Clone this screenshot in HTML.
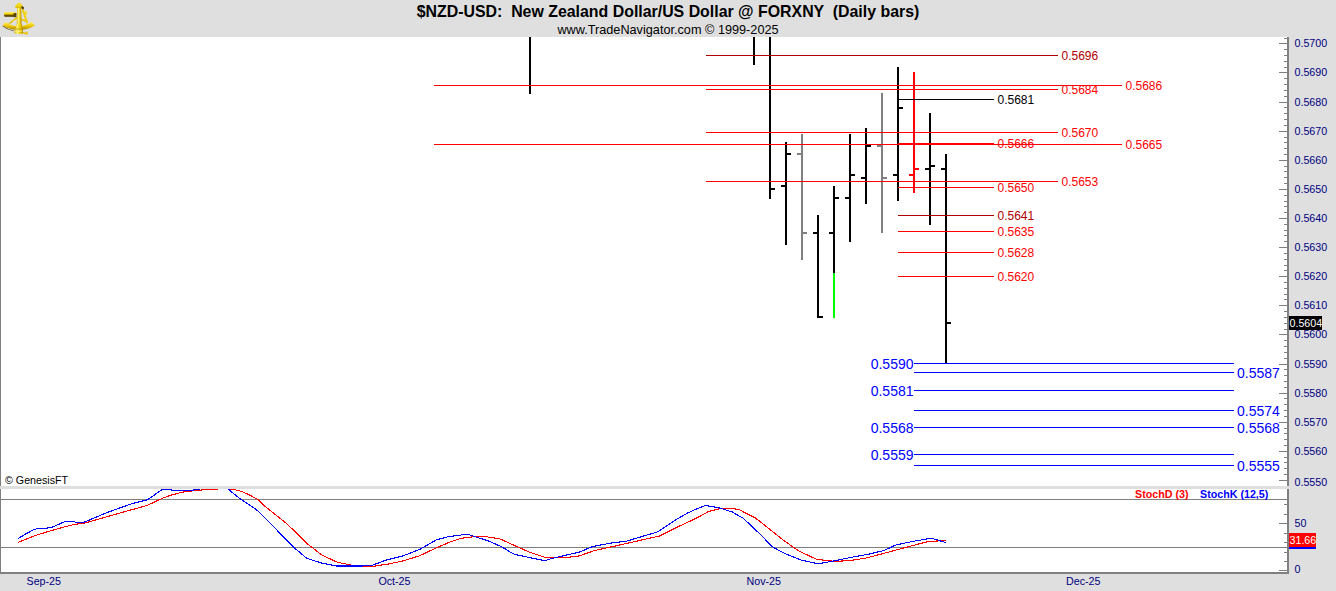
<!DOCTYPE html>
<html><head><meta charset="utf-8"><title>NZD-USD</title>
<style>html,body{margin:0;padding:0;background:#dfdfdf;width:1336px;height:591px;overflow:hidden}
svg text{font-family:'Liberation Sans', sans-serif;white-space:pre}</style></head>
<body><svg width="1336" height="591" viewBox="0 0 1336 591" style="display:block;font-family:'Liberation Sans', sans-serif" shape-rendering="crispEdges">
<rect x="0" y="0" width="1336" height="591" fill="#dfdfdf"/>
<rect x="0" y="37" width="1287" height="449" fill="#ffffff"/>
<rect x="0" y="489" width="1287" height="83" fill="#ffffff"/>
<rect x="0" y="37" width="1" height="449" fill="#808080"/>
<rect x="0" y="489" width="1" height="85" fill="#808080"/>
<rect x="1287" y="37" width="2" height="449" fill="#808080"/>
<rect x="1287" y="489" width="2" height="85" fill="#808080"/>
<rect x="0" y="572" width="1289" height="2" fill="#808080"/>
<rect x="1284" y="38" width="3" height="1" fill="#808080"/>
<rect x="1279" y="43" width="8" height="1" fill="#808080"/>
<rect x="1284" y="49" width="3" height="1" fill="#808080"/>
<rect x="1284" y="55" width="3" height="1" fill="#808080"/>
<rect x="1284" y="61" width="3" height="1" fill="#808080"/>
<rect x="1284" y="67" width="3" height="1" fill="#808080"/>
<rect x="1279" y="72" width="8" height="1" fill="#808080"/>
<rect x="1284" y="78" width="3" height="1" fill="#808080"/>
<rect x="1284" y="84" width="3" height="1" fill="#808080"/>
<rect x="1284" y="90" width="3" height="1" fill="#808080"/>
<rect x="1284" y="96" width="3" height="1" fill="#808080"/>
<rect x="1279" y="102" width="8" height="1" fill="#808080"/>
<rect x="1284" y="107" width="3" height="1" fill="#808080"/>
<rect x="1284" y="113" width="3" height="1" fill="#808080"/>
<rect x="1284" y="119" width="3" height="1" fill="#808080"/>
<rect x="1284" y="125" width="3" height="1" fill="#808080"/>
<rect x="1279" y="131" width="8" height="1" fill="#808080"/>
<rect x="1284" y="137" width="3" height="1" fill="#808080"/>
<rect x="1284" y="142" width="3" height="1" fill="#808080"/>
<rect x="1284" y="148" width="3" height="1" fill="#808080"/>
<rect x="1284" y="154" width="3" height="1" fill="#808080"/>
<rect x="1279" y="160" width="8" height="1" fill="#808080"/>
<rect x="1284" y="166" width="3" height="1" fill="#808080"/>
<rect x="1284" y="171" width="3" height="1" fill="#808080"/>
<rect x="1284" y="177" width="3" height="1" fill="#808080"/>
<rect x="1284" y="183" width="3" height="1" fill="#808080"/>
<rect x="1279" y="189" width="8" height="1" fill="#808080"/>
<rect x="1284" y="195" width="3" height="1" fill="#808080"/>
<rect x="1284" y="201" width="3" height="1" fill="#808080"/>
<rect x="1284" y="206" width="3" height="1" fill="#808080"/>
<rect x="1284" y="212" width="3" height="1" fill="#808080"/>
<rect x="1279" y="218" width="8" height="1" fill="#808080"/>
<rect x="1284" y="224" width="3" height="1" fill="#808080"/>
<rect x="1284" y="230" width="3" height="1" fill="#808080"/>
<rect x="1284" y="235" width="3" height="1" fill="#808080"/>
<rect x="1284" y="241" width="3" height="1" fill="#808080"/>
<rect x="1279" y="247" width="8" height="1" fill="#808080"/>
<rect x="1284" y="253" width="3" height="1" fill="#808080"/>
<rect x="1284" y="259" width="3" height="1" fill="#808080"/>
<rect x="1284" y="265" width="3" height="1" fill="#808080"/>
<rect x="1284" y="270" width="3" height="1" fill="#808080"/>
<rect x="1279" y="276" width="8" height="1" fill="#808080"/>
<rect x="1284" y="282" width="3" height="1" fill="#808080"/>
<rect x="1284" y="288" width="3" height="1" fill="#808080"/>
<rect x="1284" y="294" width="3" height="1" fill="#808080"/>
<rect x="1284" y="299" width="3" height="1" fill="#808080"/>
<rect x="1279" y="305" width="8" height="1" fill="#808080"/>
<rect x="1284" y="311" width="3" height="1" fill="#808080"/>
<rect x="1284" y="317" width="3" height="1" fill="#808080"/>
<rect x="1284" y="323" width="3" height="1" fill="#808080"/>
<rect x="1284" y="329" width="3" height="1" fill="#808080"/>
<rect x="1279" y="334" width="8" height="1" fill="#808080"/>
<rect x="1284" y="340" width="3" height="1" fill="#808080"/>
<rect x="1284" y="346" width="3" height="1" fill="#808080"/>
<rect x="1284" y="352" width="3" height="1" fill="#808080"/>
<rect x="1284" y="358" width="3" height="1" fill="#808080"/>
<rect x="1279" y="364" width="8" height="1" fill="#808080"/>
<rect x="1284" y="369" width="3" height="1" fill="#808080"/>
<rect x="1284" y="375" width="3" height="1" fill="#808080"/>
<rect x="1284" y="381" width="3" height="1" fill="#808080"/>
<rect x="1284" y="387" width="3" height="1" fill="#808080"/>
<rect x="1279" y="393" width="8" height="1" fill="#808080"/>
<rect x="1284" y="398" width="3" height="1" fill="#808080"/>
<rect x="1284" y="404" width="3" height="1" fill="#808080"/>
<rect x="1284" y="410" width="3" height="1" fill="#808080"/>
<rect x="1284" y="416" width="3" height="1" fill="#808080"/>
<rect x="1279" y="422" width="8" height="1" fill="#808080"/>
<rect x="1284" y="428" width="3" height="1" fill="#808080"/>
<rect x="1284" y="433" width="3" height="1" fill="#808080"/>
<rect x="1284" y="439" width="3" height="1" fill="#808080"/>
<rect x="1284" y="445" width="3" height="1" fill="#808080"/>
<rect x="1279" y="451" width="8" height="1" fill="#808080"/>
<rect x="1284" y="457" width="3" height="1" fill="#808080"/>
<rect x="1284" y="462" width="3" height="1" fill="#808080"/>
<rect x="1284" y="468" width="3" height="1" fill="#808080"/>
<rect x="1284" y="474" width="3" height="1" fill="#808080"/>
<rect x="1279" y="480" width="8" height="1" fill="#808080"/>
<text x="1294.5" y="47" font-size="10.7" fill="#000080" font-weight="normal" text-anchor="start">0.5700</text>
<text x="1294.5" y="76" font-size="10.7" fill="#000080" font-weight="normal" text-anchor="start">0.5690</text>
<text x="1294.5" y="106" font-size="10.7" fill="#000080" font-weight="normal" text-anchor="start">0.5680</text>
<text x="1294.5" y="135" font-size="10.7" fill="#000080" font-weight="normal" text-anchor="start">0.5670</text>
<text x="1294.5" y="164" font-size="10.7" fill="#000080" font-weight="normal" text-anchor="start">0.5660</text>
<text x="1294.5" y="193" font-size="10.7" fill="#000080" font-weight="normal" text-anchor="start">0.5650</text>
<text x="1294.5" y="222" font-size="10.7" fill="#000080" font-weight="normal" text-anchor="start">0.5640</text>
<text x="1294.5" y="251" font-size="10.7" fill="#000080" font-weight="normal" text-anchor="start">0.5630</text>
<text x="1294.5" y="280" font-size="10.7" fill="#000080" font-weight="normal" text-anchor="start">0.5620</text>
<text x="1294.5" y="309" font-size="10.7" fill="#000080" font-weight="normal" text-anchor="start">0.5610</text>
<text x="1294.5" y="338" font-size="10.7" fill="#000080" font-weight="normal" text-anchor="start">0.5600</text>
<text x="1294.5" y="368" font-size="10.7" fill="#000080" font-weight="normal" text-anchor="start">0.5590</text>
<text x="1294.5" y="397" font-size="10.7" fill="#000080" font-weight="normal" text-anchor="start">0.5580</text>
<text x="1294.5" y="426" font-size="10.7" fill="#000080" font-weight="normal" text-anchor="start">0.5570</text>
<text x="1294.5" y="455" font-size="10.7" fill="#000080" font-weight="normal" text-anchor="start">0.5560</text>
<text x="1294.5" y="486" font-size="10.7" fill="#000080" font-weight="normal" text-anchor="start">0.5550</text>
<rect x="1279" y="570" width="8" height="1" fill="#808080"/>
<rect x="1284" y="561" width="3" height="1" fill="#808080"/>
<rect x="1284" y="552" width="3" height="1" fill="#808080"/>
<rect x="1284" y="542" width="3" height="1" fill="#808080"/>
<rect x="1284" y="533" width="3" height="1" fill="#808080"/>
<rect x="1279" y="523" width="8" height="1" fill="#808080"/>
<rect x="1284" y="514" width="3" height="1" fill="#808080"/>
<rect x="1284" y="504" width="3" height="1" fill="#808080"/>
<rect x="1" y="499" width="1286" height="1" fill="#808080"/>
<rect x="1" y="547" width="1286" height="1" fill="#808080"/>
<text x="1294.5" y="527" font-size="10.7" fill="#000080" font-weight="normal" text-anchor="start">50</text>
<text x="1294.5" y="573" font-size="10.7" fill="#000080" font-weight="normal" text-anchor="start">0</text>
<rect x="529" y="37" width="2" height="57" fill="#000000"/>
<rect x="753" y="37" width="2" height="28" fill="#000000"/>
<rect x="769" y="37" width="2" height="162" fill="#000000"/>
<rect x="771" y="188" width="4" height="2" fill="#000000"/>
<rect x="785" y="142" width="2" height="103" fill="#000000"/>
<rect x="781" y="185" width="4" height="2" fill="#000000"/>
<rect x="787" y="153" width="4" height="2" fill="#000000"/>
<rect x="801" y="134" width="2" height="126" fill="#808080"/>
<rect x="797" y="153" width="4" height="2" fill="#808080"/>
<rect x="803" y="232" width="4" height="2" fill="#808080"/>
<rect x="817" y="215" width="2" height="103" fill="#000000"/>
<rect x="813" y="232" width="4" height="2" fill="#000000"/>
<rect x="819" y="316" width="4" height="2" fill="#000000"/>
<rect x="833" y="186" width="2" height="87" fill="#000000"/>
<rect x="829" y="232" width="4" height="2" fill="#000000"/>
<rect x="835" y="197" width="4" height="2" fill="#000000"/>
<rect x="833" y="273" width="2" height="45" fill="#00ff00"/>
<rect x="849" y="134" width="2" height="108" fill="#000000"/>
<rect x="845" y="197" width="4" height="2" fill="#000000"/>
<rect x="851" y="174" width="4" height="2" fill="#000000"/>
<rect x="865" y="128" width="2" height="76" fill="#000000"/>
<rect x="861" y="177" width="4" height="2" fill="#000000"/>
<rect x="867" y="145" width="4" height="2" fill="#000000"/>
<rect x="881" y="93" width="2" height="140" fill="#808080"/>
<rect x="877" y="145" width="4" height="2" fill="#808080"/>
<rect x="883" y="177" width="4" height="2" fill="#808080"/>
<rect x="897" y="67" width="2" height="134" fill="#000000"/>
<rect x="893" y="174" width="4" height="2" fill="#000000"/>
<rect x="899" y="107" width="4" height="2" fill="#000000"/>
<rect x="913" y="72" width="2" height="121" fill="#ff0000"/>
<rect x="909" y="174" width="4" height="2" fill="#ff0000"/>
<rect x="915" y="168" width="4" height="2" fill="#ff0000"/>
<rect x="929" y="113" width="2" height="112" fill="#000000"/>
<rect x="925" y="168" width="4" height="2" fill="#000000"/>
<rect x="931" y="165" width="4" height="2" fill="#000000"/>
<rect x="945" y="154" width="2" height="209" fill="#000000"/>
<rect x="941" y="168" width="4" height="2" fill="#000000"/>
<rect x="947" y="322" width="4" height="2" fill="#000000"/>
<rect x="706" y="55" width="352" height="1" fill="#b00000"/>
<text x="1061.5" y="60" font-size="12" fill="#b00000" font-weight="normal" text-anchor="start">0.5696</text>
<rect x="706" y="89" width="352" height="1" fill="#ff0000"/>
<text x="1061.5" y="94" font-size="12" fill="#ff0000" font-weight="normal" text-anchor="start">0.5684</text>
<rect x="706" y="132" width="352" height="1" fill="#ff0000"/>
<text x="1061.5" y="137" font-size="12" fill="#ff0000" font-weight="normal" text-anchor="start">0.5670</text>
<rect x="706" y="181" width="352" height="1" fill="#ff0000"/>
<text x="1061.5" y="186" font-size="12" fill="#ff0000" font-weight="normal" text-anchor="start">0.5653</text>
<rect x="898" y="99" width="96" height="1" fill="#000000"/>
<text x="997.5" y="104" font-size="12" fill="#000000" font-weight="normal" text-anchor="start">0.5681</text>
<rect x="898" y="143" width="96" height="1" fill="#ff0000"/>
<text x="997.5" y="148" font-size="12" fill="#ff0000" font-weight="normal" text-anchor="start">0.5666</text>
<rect x="898" y="187" width="96" height="1" fill="#ff0000"/>
<text x="997.5" y="192" font-size="12" fill="#ff0000" font-weight="normal" text-anchor="start">0.5650</text>
<rect x="898" y="215" width="96" height="1" fill="#b00000"/>
<text x="997.5" y="220" font-size="12" fill="#b00000" font-weight="normal" text-anchor="start">0.5641</text>
<rect x="898" y="231" width="96" height="1" fill="#ff0000"/>
<text x="997.5" y="236" font-size="12" fill="#ff0000" font-weight="normal" text-anchor="start">0.5635</text>
<rect x="898" y="252" width="96" height="1" fill="#ff0000"/>
<text x="997.5" y="257" font-size="12" fill="#ff0000" font-weight="normal" text-anchor="start">0.5628</text>
<rect x="898" y="276" width="96" height="1" fill="#ff0000"/>
<text x="997.5" y="281" font-size="12" fill="#ff0000" font-weight="normal" text-anchor="start">0.5620</text>
<rect x="434" y="85" width="688" height="1" fill="#ff0000"/>
<text x="1125.5" y="90" font-size="12" fill="#ff0000" font-weight="normal" text-anchor="start">0.5686</text>
<rect x="434" y="144" width="688" height="1" fill="#ff0000"/>
<text x="1125.5" y="149" font-size="12" fill="#ff0000" font-weight="normal" text-anchor="start">0.5665</text>
<rect x="914" y="363" width="320" height="1" fill="#0000ff"/>
<text x="913.5" y="369" font-size="14" fill="#0000ff" font-weight="normal" text-anchor="end">0.5590</text>
<rect x="914" y="372" width="320" height="1" fill="#0000ff"/>
<text x="1237" y="378" font-size="14" fill="#0000ff" font-weight="normal" text-anchor="start">0.5587</text>
<rect x="914" y="390" width="320" height="1" fill="#0000ff"/>
<text x="913.5" y="396" font-size="14" fill="#0000ff" font-weight="normal" text-anchor="end">0.5581</text>
<rect x="914" y="410" width="320" height="1" fill="#0000ff"/>
<text x="1237" y="416" font-size="14" fill="#0000ff" font-weight="normal" text-anchor="start">0.5574</text>
<rect x="914" y="427" width="320" height="1" fill="#0000ff"/>
<text x="913.5" y="433" font-size="14" fill="#0000ff" font-weight="normal" text-anchor="end">0.5568</text>
<text x="1237" y="433" font-size="14" fill="#0000ff" font-weight="normal" text-anchor="start">0.5568</text>
<rect x="914" y="454" width="320" height="1" fill="#0000ff"/>
<text x="913.5" y="460" font-size="14" fill="#0000ff" font-weight="normal" text-anchor="end">0.5559</text>
<rect x="914" y="465" width="320" height="1" fill="#0000ff"/>
<text x="1237" y="471" font-size="14" fill="#0000ff" font-weight="normal" text-anchor="start">0.5555</text>
<rect x="1289" y="316" width="33" height="14" fill="#000000"/>
<text x="1289.5" y="327" font-size="10.7" fill="#ffffff" font-weight="normal" text-anchor="start">0.5604</text>
<rect x="1289" y="535" width="27" height="14" fill="#0000ff"/>
<rect x="1289" y="533" width="27" height="14" fill="#ff0000"/>
<text x="1289.5" y="544" font-size="10.7" fill="#ffffff" font-weight="normal" text-anchor="start">31.66</text>
<path d="M18.2,542.4 L34.4,535.8 L51.5,530.5 L65.2,526.7 L74.7,524.4 L83.8,523.3 L147.7,505.2 L161.2,498.8 L170.0,495.4 L181.0,492.5 L188.0,491.2 L192.0,491.0 L196.0,490.3 L201.6,490.3 L202.0,489.4 L217.8,489.4" fill="none" stroke="#ff0000" stroke-width="1.1"/>
<path d="M228.4,489.3 L234.3,489.5 L242.0,491.6 L250.4,495.4 L258.0,499.7 L265.0,506.3 L277.7,516.5 L286.6,523.5 L308.1,544.4 L322.1,555.2 L337.3,562.2 L352.6,565.4 L365.0,566.6 L374.0,566.2 L387.9,564.1 L403.1,560.9 L419.6,555.8 L436.1,548.0 L448.8,542.5 L460.0,538.7 L466.4,537.4 L474.0,536.8 L486.7,536.8 L499.4,538.7 L512.1,544.4 L528.6,551.8 L545.1,557.4 L555.0,557.7 L569.0,557.2 L579.2,555.9 L594.4,550.6 L613.5,546.4 L628.7,543.0 L650.0,538.1 L659.0,536.2 L676.7,527.4 L695.8,518.5 L708.5,511.5 L721.1,508.3 L730.0,508.3 L739.5,509.6 L745.0,512.8 L755.2,517.8 L766.6,526.7 L783.1,540.0 L798.4,550.8 L816.1,559.1 L828.8,561.0 L840.0,561.2 L853.3,560.0 L865.5,558.2 L880.7,554.2 L895.9,550.1 L912.2,545.7 L928.4,541.5 L937.5,541.0 L945.7,540.3" fill="none" stroke="#ff0000" stroke-width="1.1"/>
<path d="M18.2,538.5 L26.4,533.5 L34.4,529.4 L38.2,528.4 L45.8,528.2 L51.5,527.5 L65.2,521.4 L74.7,521.4 L75.4,522.4 L83.4,522.5 L105.4,513.2 L130.8,504.0 L147.7,499.7 L162.0,489.5 L170.5,489.5 L171.8,490.3 L192.0,490.3 L196.0,489.4 L199.8,489.4" fill="none" stroke="#0000ff" stroke-width="1.1"/>
<path d="M228.4,489.3 L240.2,498.8 L254.6,508.5 L258.0,511.0 L270.0,522.9 L282.1,535.5 L294.8,548.2 L306.9,558.4 L320.8,562.8 L336.0,566.0 L362.7,566.0 L372.0,565.4 L385.4,560.3 L403.1,555.8 L419.6,549.5 L436.1,540.0 L448.8,536.5 L460.0,535.3 L462.6,534.3 L468.3,534.3 L475.3,536.8 L489.3,541.2 L502.0,547.0 L513.4,553.9 L518.5,555.2 L533.7,558.4 L545.1,560.7 L551.4,558.6 L560.2,556.5 L579.2,552.1 L593.1,546.4 L613.5,542.6 L626.1,541.3 L645.0,535.6 L656.4,532.4 L662.8,528.6 L678.0,518.5 L688.1,512.8 L697.0,508.7 L705.9,505.4 L709.7,506.2 L718.6,507.7 L732.6,512.1 L740.0,516.6 L742.5,517.6 L750.2,524.8 L762.2,536.2 L771.7,546.4 L783.1,552.7 L800.9,560.0 L816.1,563.3 L821.2,563.3 L830.1,561.6 L836.4,560.4 L841.1,559.4 L853.3,556.9 L868.5,554.2 L883.7,550.6 L895.9,545.0 L912.2,541.5 L930.4,538.4 L936.5,539.4 L940.6,541.0 L945.7,542.5" fill="none" stroke="#0000ff" stroke-width="1.1"/>
<text x="5" y="484" font-size="10.7" fill="#000000" font-weight="normal" text-anchor="start">© GenesisFT</text>
<text x="1135" y="498" font-size="10.7" fill="#ff0000" font-weight="bold" text-anchor="start">StochD (3)</text>
<text x="1200" y="498" font-size="10.7" fill="#0000ff" font-weight="bold" text-anchor="start">StochK (12,5)</text>
<text x="61" y="585" font-size="10.7" fill="#000080" font-weight="normal" text-anchor="end">Sep-25</text>
<text x="410.5" y="585" font-size="10.7" fill="#000080" font-weight="normal" text-anchor="end">Oct-25</text>
<text x="781" y="585" font-size="10.7" fill="#000080" font-weight="normal" text-anchor="end">Nov-25</text>
<text x="1100.5" y="585" font-size="10.7" fill="#000080" font-weight="normal" text-anchor="end">Dec-25</text>
<text x="668" y="17" font-size="15.9" fill="#000000" font-weight="bold" text-anchor="middle">$NZD-USD:  New Zealand Dollar/US Dollar @ FORXNY  (Daily bars)</text>
<text x="668" y="34" font-size="12.7" fill="#000000" font-weight="normal" text-anchor="middle">www.TradeNavigator.com © 1999-2025</text>
<g shape-rendering="auto">
<defs>
  <linearGradient id="gv" x1="0" y1="0" x2="0" y2="1">
    <stop offset="0" stop-color="#fff27a"/><stop offset="0.4" stop-color="#f2d000"/><stop offset="0.7" stop-color="#6a5400"/><stop offset="1" stop-color="#3a2e00"/>
  </linearGradient>
  <linearGradient id="gh" x1="0" y1="0" x2="1" y2="0">
    <stop offset="0" stop-color="#d4b000"/><stop offset="0.35" stop-color="#fff27a"/><stop offset="0.65" stop-color="#f0cc00"/><stop offset="1" stop-color="#a88400"/>
  </linearGradient>
  <linearGradient id="ga" x1="0" y1="0" x2="0" y2="1">
    <stop offset="0" stop-color="#fff070"/><stop offset="0.5" stop-color="#efc800"/><stop offset="1" stop-color="#a08000"/>
  </linearGradient>
</defs>
<g id="logo">
  <path d="M2.8,25.6 L5.3,21.8 Q18.5,30.8 31.5,21.8 L35,25.6 Q18.5,34.8 2.8,25.6 Z" fill="url(#ga)"/>
  <path d="M2.8,25.6 Q8,29.5 14,30.5 L13.5,31.3 Q7,30 2.6,26.2 Z" fill="#4a3a00" opacity="0.8"/>
  <path d="M10.6,21.6 L16.9,16.8 L17.2,18.4 L11.6,22.6 Z" fill="#ecc800"/>
  <path d="M8.5,23 L12,21.5 L12.5,22.6 L9.2,24 Z" fill="#e0bc00"/>
  <path d="M21.2,18.4 L27.8,20.8 L27.4,22.4 L21.2,20.2 Z" fill="#ecc800"/>
  <path d="M21.4,8.8 L23.4,8.4 L28.2,22.8 L26.2,23.6 Z" fill="#f0cf10"/>
  <path d="M24.6,11.2 L26.8,11 L27.2,15 L25.2,15.2 Z" fill="#f7de40"/>
  <rect x="4.1" y="12" width="11.6" height="4.8" rx="1" fill="url(#gv)"/>
  <rect x="13.6" y="13" width="2.8" height="4.2" fill="#5a4800"/>
  <path d="M17.2,7 L21.2,7 L21.6,25 L16.8,25 Z" fill="url(#gh)"/>
  <path d="M15.1,7.6 Q15.6,4 18,3.6 L18.4,2.8 L20,2.8 L20.4,3.6 Q22.6,4 23,7.6 Z" fill="#f5d820"/>
  <rect x="15.4" y="6.6" width="7.4" height="1.2" fill="#d8b400"/>
  <path d="M21.6,5.8 L24,7.6 L23.4,9.5 L21.6,8.6 Z" fill="#3a2e00"/>
  <path d="M16.4,24 L21.9,24 L23.2,33.2 Q18.6,34.6 14.2,33.2 Z" fill="url(#gh)"/>
  <rect x="15" y="28.6" width="7.2" height="0.9" fill="#c09c00"/>
  <rect x="15.4" y="30.6" width="6.6" height="1.4" fill="#fff080" opacity="0.7"/>
  <rect x="23" y="32.4" width="4" height="1.6" fill="#e8c400"/>
  <rect x="26.2" y="31.6" width="1.4" height="3.2" fill="#e8c400"/>
</g></g>
</svg></body></html>
